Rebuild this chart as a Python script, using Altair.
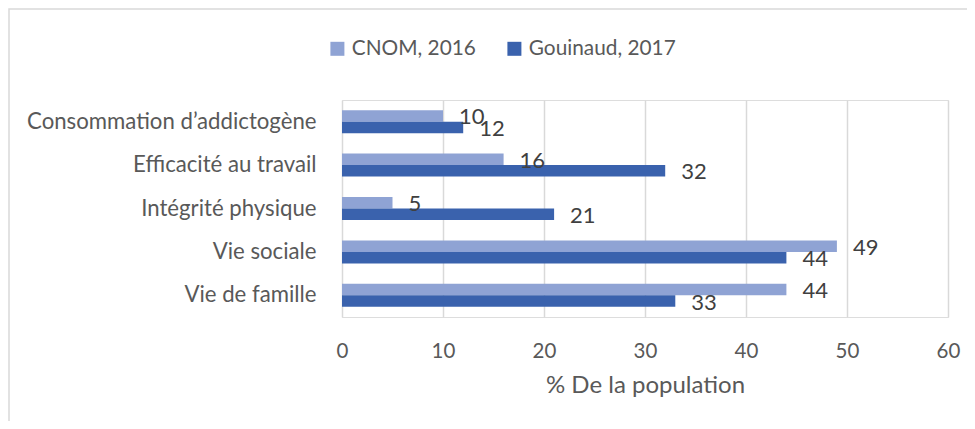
import altair as alt
import pandas as pd

categories = ["Consommation d’addictogène", "Efficacité au travail", "Intégrité physique", "Vie sociale", "Vie de famille"]
cnom_2016 = [10, 16, 5, 49, 44]
gouinaud_2017 = [12, 32, 21, 44, 33]
series = ["CNOM, 2016", "Gouinaud, 2017"]
colors = ["#8FA3D4", "#3A62AD"]
x_ticks = [0, 10, 20, 30, 40, 50, 60]

rows = []
for c, a, b in zip(categories, cnom_2016, gouinaud_2017):
    rows.append({"cat": c, "serie": series[0], "val": a})
    rows.append({"cat": c, "serie": series[1], "val": b})
df = pd.DataFrame(rows)

FONT = "Lato"

y_enc = alt.Y("cat:N", sort=categories,
              scale=alt.Scale(paddingInner=0.47, paddingOuter=0.235),
              axis=alt.Axis(title=None, ticks=False, domain=False, labelPadding=26, labelLimit=0,
                            labelFontSize=22.2, labelColor="#595959", labelFont=FONT))
yoff = alt.YOffset("serie:N", sort=series)
x_enc = alt.X("val:Q", scale=alt.Scale(domain=[0, 60]),
              axis=alt.Axis(values=x_ticks, title="% De la population", ticks=False, domain=False,
                            grid=True, gridColor="#D9D9D9", gridWidth=1.5, labelFlush=False,
                            labelFontSize=20.5, labelColor="#595959", labelFont=FONT, labelPadding=24,
                            titleFontSize=24, titleColor="#595959", titleFont=FONT,
                            titleFontWeight="normal", titlePadding=12))

base = alt.Chart(df)

bars = base.mark_bar().encode(
    y=y_enc, yOffset=yoff, x=x_enc,
    color=alt.Color("serie:N", sort=series,
                    scale=alt.Scale(domain=series, range=colors),
                    legend=alt.Legend(title=None, orient="none", direction="horizontal",
                                      legendX=-15, legendY=-62, symbolType="square",
                                      symbolSize=196, symbolStrokeWidth=0,
                                      labelFontSize=20.8, labelColor="#595959", labelFont=FONT,
                                      labelOffset=4, columnPadding=28, padding=0)),
)

labels = base.mark_text(align="left", baseline="middle", dx=16, dy=1.5,
                        fontSize=22, color="#404040", font=FONT).encode(
    y=alt.Y("cat:N", sort=categories), yOffset=yoff, x="val:Q", text="val:Q",
)

border_df = pd.DataFrame({"k": [0]})
border = alt.Chart(border_df).mark_rect(fill=None, stroke="#D9D9D9", strokeWidth=1.5).encode(
    x=alt.value(-333), x2=alt.value(700), y=alt.value(-91), y2=alt.value(400),
)

chart = alt.layer(border, bars, labels).properties(
    width=606, height=217,
    autosize=alt.AutoSizeParams(type="none"),
    padding={"left": 334, "top": 92, "right": 19, "bottom": 104},
).configure_view(stroke=None).configure(background="white")

chart.save("out.html", embed_options={"renderer": "svg", "actions": False})
